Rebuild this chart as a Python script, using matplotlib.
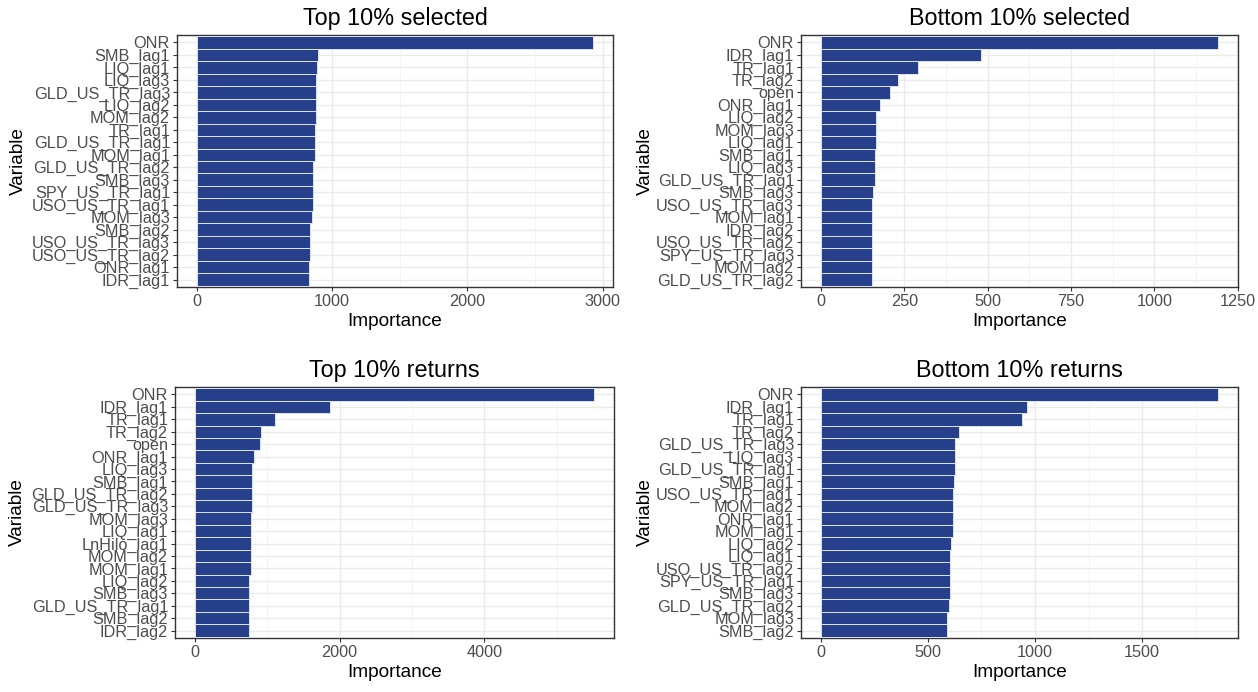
import matplotlib.pyplot as plt
import numpy as np
from matplotlib.ticker import MultipleLocator

# variable importance, listed from the top bar down
top_sel_vars = ['ONR', 'SMB_lag1', 'LIQ_lag1', 'LIQ_lag3', 'GLD_US_TR_lag3', 'LIQ_lag2', 'MOM_lag2',
                'TR_lag1', 'GLD_US_TR_lag1', 'MOM_lag1', 'GLD_US_TR_lag2', 'SMB_lag3', 'SPY_US_TR_lag1',
                'USO_US_TR_lag1', 'MOM_lag3', 'SMB_lag2', 'USO_US_TR_lag3', 'USO_US_TR_lag2', 'ONR_lag1', 'IDR_lag1']
top_sel_imp = [2930, 897, 889, 882, 882, 882, 882, 870, 870, 870, 860, 860, 860, 860, 850, 840, 840, 840, 830, 830]

bot_sel_vars = ['ONR', 'IDR_lag1', 'TR_lag1', 'TR_lag2', 'open', 'ONR_lag1', 'LIQ_lag2', 'MOM_lag3', 'LIQ_lag1',
                'SMB_lag1', 'LIQ_lag3', 'GLD_US_TR_lag1', 'SMB_lag3', 'USO_US_TR_lag3', 'MOM_lag1', 'IDR_lag2',
                'USO_US_TR_lag2', 'SPY_US_TR_lag3', 'MOM_lag2', 'GLD_US_TR_lag2']
bot_sel_imp = [1191, 481, 290, 232, 208, 176, 164, 164, 164, 161, 161, 161, 157, 153, 153, 153, 153, 153, 153, 153]

top_ret_vars = ['ONR', 'IDR_lag1', 'TR_lag1', 'TR_lag2', 'open', 'ONR_lag1', 'LIQ_lag3', 'SMB_lag1',
                'GLD_US_TR_lag2', 'GLD_US_TR_lag3', 'MOM_lag3', 'LIQ_lag1', 'LnHilo_lag1', 'MOM_lag2', 'MOM_lag1',
                'LIQ_lag2', 'SMB_lag3', 'GLD_US_TR_lag1', 'SMB_lag2', 'IDR_lag2']
top_ret_imp = [5516, 1866, 1111, 912, 894, 820, 783, 783, 783, 783, 770, 770, 770, 770, 770, 751, 751, 751, 751, 751]

bot_ret_vars = ['ONR', 'IDR_lag1', 'TR_lag1', 'TR_lag2', 'GLD_US_TR_lag3', 'LIQ_lag3', 'GLD_US_TR_lag1', 'SMB_lag1',
                'USO_US_TR_lag1', 'MOM_lag2', 'ONR_lag1', 'MOM_lag1', 'LIQ_lag2', 'LIQ_lag1', 'USO_US_TR_lag2',
                'SPY_US_TR_lag1', 'SMB_lag3', 'GLD_US_TR_lag2', 'MOM_lag3', 'SMB_lag2']
bot_ret_imp = [1855, 963, 938, 646, 628, 628, 628, 621, 615, 615, 615, 615, 609, 603, 603, 603, 603, 597, 590, 590]

plt.rcParams['font.family'] = ['Liberation Sans', 'DejaVu Sans']

W, H = 1258, 692
fig = plt.figure(figsize=(W / 100, H / 100), dpi=100)


def px_axes(left, top, right, bottom):
    return fig.add_axes([left / W, 1 - bottom / H, (right - left) / W, (bottom - top) / H])


def importance_panel(ax, names, vals, title, major, minor):
    n = len(names)
    y = np.arange(n)[::-1]
    ax.barh(y, vals, height=1.0, color='#27408B', edgecolor='#dfe2ee', linewidth=0.7, zorder=3)
    vmax = max(vals)
    ax.set_xlim(-0.05 * vmax, 1.05 * vmax)
    ax.set_ylim(-0.6, n - 1 + 0.6)
    ax.set_yticks(y)
    ax.set_yticklabels(names)
    ax.xaxis.set_major_locator(MultipleLocator(major))
    ax.xaxis.set_minor_locator(MultipleLocator(minor))
    ax.set_axisbelow(True)
    ax.grid(which='major', color='#EBEBEB', linewidth=1.0, zorder=0)
    ax.grid(which='minor', axis='x', color='#F2F2F2', linewidth=0.6, zorder=0)
    ax.tick_params(axis='both', which='major', length=3, width=0.8, color='#333333',
                   labelcolor='#4D4D4D', labelsize=11.7, pad=2)
    ax.tick_params(axis='x', which='minor', length=0)
    for s in ax.spines.values():
        s.set_color('#333333')
        s.set_linewidth(1.0)
    ax.set_title(title, fontsize=16.8, pad=7)
    ax.set_xlabel('Importance', fontsize=13.7, labelpad=3)


ax1 = px_axes(177, 35, 613, 287)
importance_panel(ax1, top_sel_vars, top_sel_imp, 'Top 10% selected', 1000, 500)
ax2 = px_axes(801, 35, 1238, 287)
importance_panel(ax2, bot_sel_vars, bot_sel_imp, 'Bottom 10% selected', 250, 125)
ax3 = px_axes(175, 387, 614, 638)
importance_panel(ax3, top_ret_vars, top_ret_imp, 'Top 10% returns', 2000, 1000)
ax4 = px_axes(801, 387, 1238, 638)
importance_panel(ax4, bot_ret_vars, bot_ret_imp, 'Bottom 10% returns', 500, 250)

# y axis titles
for xp, yp in [(18, 161), (645, 161), (17, 512), (645, 512)]:
    fig.text(xp / W, 1 - yp / H, 'Variable', rotation=90, ha='center', va='center', fontsize=13.7)

plt.savefig('out.png', dpi=100)
